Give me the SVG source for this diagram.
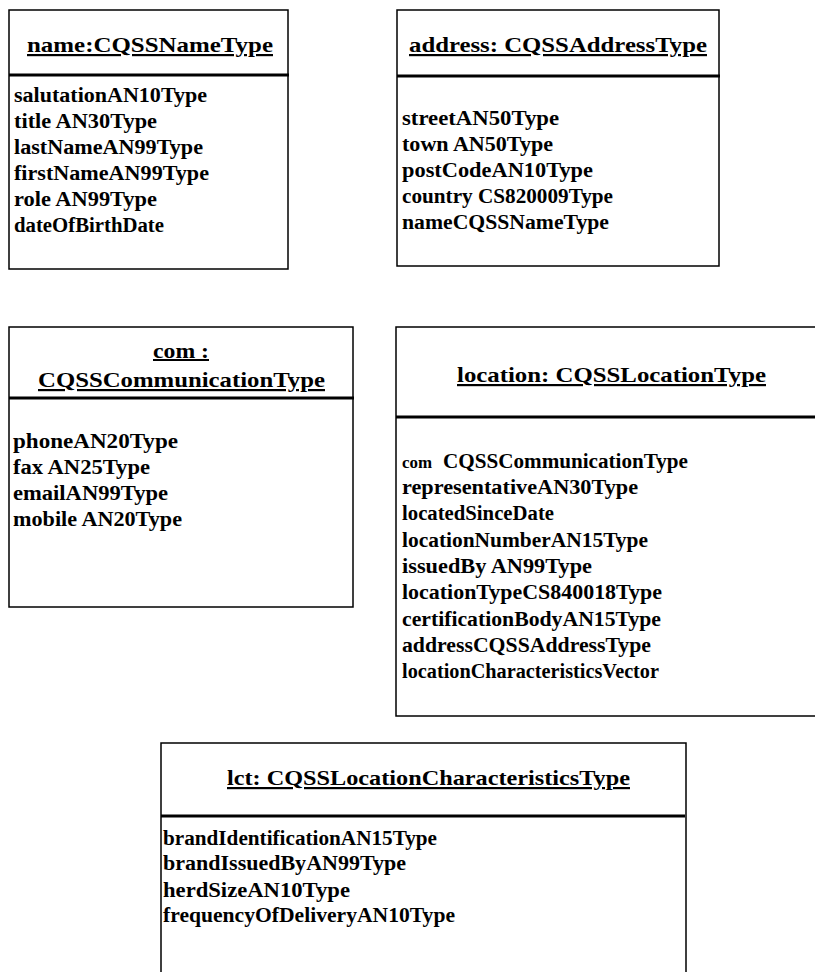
<svg xmlns="http://www.w3.org/2000/svg" width="815" height="972" viewBox="0 0 815 972">
  <style>
    .box { fill: #fff; stroke: #000; stroke-width: 1.5; }
    .div { stroke: #000; stroke-width: 3; }
    text { font-family: "Liberation Serif", "Times New Roman", serif; font-weight: bold; fill: #000; }
    .title { font-size: 22px; text-decoration: underline; }
    .attr { font-size: 20px; }
    .com { font-size: 16px; }
  </style>
  <rect width="815" height="972" fill="#fff"/>

  <g id="name">
    <rect class="box" x="9" y="10" width="279" height="259"/>
    <line class="div" x1="9" y1="75" x2="289" y2="75"/>
    <text class="title" x="27" y="52" textLength="246" lengthAdjust="spacingAndGlyphs">name:CQSSNameType</text>
    <text class="attr" x="14" y="102" textLength="193" lengthAdjust="spacingAndGlyphs">salutationAN10Type</text>
    <text class="attr" x="14" y="128" textLength="143" lengthAdjust="spacingAndGlyphs">title AN30Type</text>
    <text class="attr" x="14" y="154" textLength="189" lengthAdjust="spacingAndGlyphs">lastNameAN99Type</text>
    <text class="attr" x="14" y="180" textLength="195" lengthAdjust="spacingAndGlyphs">firstNameAN99Type</text>
    <text class="attr" x="14" y="206" textLength="143" lengthAdjust="spacingAndGlyphs">role AN99Type</text>
    <text class="attr" x="14" y="232" textLength="150" lengthAdjust="spacingAndGlyphs">dateOfBirthDate</text>
  </g>

  <g id="address">
    <rect class="box" x="397" y="10" width="322" height="256"/>
    <line class="div" x1="397" y1="76" x2="720" y2="76"/>
    <text class="title" x="409" y="52" textLength="298" lengthAdjust="spacingAndGlyphs">address: CQSSAddressType</text>
    <text class="attr" x="402" y="125" textLength="157" lengthAdjust="spacingAndGlyphs">streetAN50Type</text>
    <text class="attr" x="402" y="151" textLength="151" lengthAdjust="spacingAndGlyphs">town AN50Type</text>
    <text class="attr" x="402" y="177" textLength="191" lengthAdjust="spacingAndGlyphs">postCodeAN10Type</text>
    <text class="attr" x="402" y="203" textLength="211" lengthAdjust="spacingAndGlyphs">country CS820009Type</text>
    <text class="attr" x="402" y="229" textLength="207" lengthAdjust="spacingAndGlyphs">nameCQSSNameType</text>
  </g>

  <g id="com">
    <rect class="box" x="9" y="327" width="344" height="280"/>
    <line class="div" x1="9" y1="398" x2="354" y2="398"/>
    <text class="title" x="153" y="358" style="font-size:20px" textLength="56" lengthAdjust="spacingAndGlyphs">com  :</text>
    <text class="title" x="38" y="387" textLength="287" lengthAdjust="spacingAndGlyphs">CQSSCommunicationType</text>
    <text class="attr" x="13" y="448" textLength="165" lengthAdjust="spacingAndGlyphs">phoneAN20Type</text>
    <text class="attr" x="13" y="474" textLength="137" lengthAdjust="spacingAndGlyphs">fax AN25Type</text>
    <text class="attr" x="13" y="500" textLength="155" lengthAdjust="spacingAndGlyphs">emailAN99Type</text>
    <text class="attr" x="13" y="526" textLength="169" lengthAdjust="spacingAndGlyphs">mobile AN20Type</text>
  </g>

  <g id="location">
    <rect class="box" x="396" y="327" width="430" height="389"/>
    <line class="div" x1="396" y1="417" x2="815" y2="417"/>
    <text class="title" x="457" y="382" textLength="309" lengthAdjust="spacingAndGlyphs">location: CQSSLocationType</text>
    <text class="com" x="402" y="468" textLength="30" lengthAdjust="spacingAndGlyphs">com</text>
    <text class="attr" x="443" y="468" textLength="245" lengthAdjust="spacingAndGlyphs">CQSSCommunicationType</text>
    <text class="attr" x="402" y="494" textLength="236" lengthAdjust="spacingAndGlyphs">representativeAN30Type</text>
    <text class="attr" x="402" y="520" textLength="152" lengthAdjust="spacingAndGlyphs">locatedSinceDate</text>
    <text class="attr" x="402" y="547" textLength="246" lengthAdjust="spacingAndGlyphs">locationNumberAN15Type</text>
    <text class="attr" x="402" y="573" textLength="190" lengthAdjust="spacingAndGlyphs">issuedBy AN99Type</text>
    <text class="attr" x="402" y="599" textLength="260" lengthAdjust="spacingAndGlyphs">locationTypeCS840018Type</text>
    <text class="attr" x="402" y="626" textLength="259" lengthAdjust="spacingAndGlyphs">certificationBodyAN15Type</text>
    <text class="attr" x="402" y="652" textLength="249" lengthAdjust="spacingAndGlyphs">addressCQSSAddressType</text>
    <text class="attr" x="402" y="678" textLength="257" lengthAdjust="spacingAndGlyphs">locationCharacteristicsVector</text>
  </g>

  <g id="lct">
    <path class="box" d="M161,980 V743 H686 V980"/>
    <line class="div" x1="161" y1="816" x2="685" y2="816"/>
    <text class="title" x="227" y="785" textLength="403" lengthAdjust="spacingAndGlyphs">lct: CQSSLocationCharacteristicsType</text>
    <text class="attr" x="163" y="845" textLength="274" lengthAdjust="spacingAndGlyphs">brandIdentificationAN15Type</text>
    <text class="attr" x="163" y="870" textLength="243" lengthAdjust="spacingAndGlyphs">brandIssuedByAN99Type</text>
    <text class="attr" x="163" y="897" textLength="187" lengthAdjust="spacingAndGlyphs">herdSizeAN10Type</text>
    <text class="attr" x="163" y="922" textLength="292" lengthAdjust="spacingAndGlyphs">frequencyOfDeliveryAN10Type</text>
  </g>

  <g id="connectors"></g>
</svg>
